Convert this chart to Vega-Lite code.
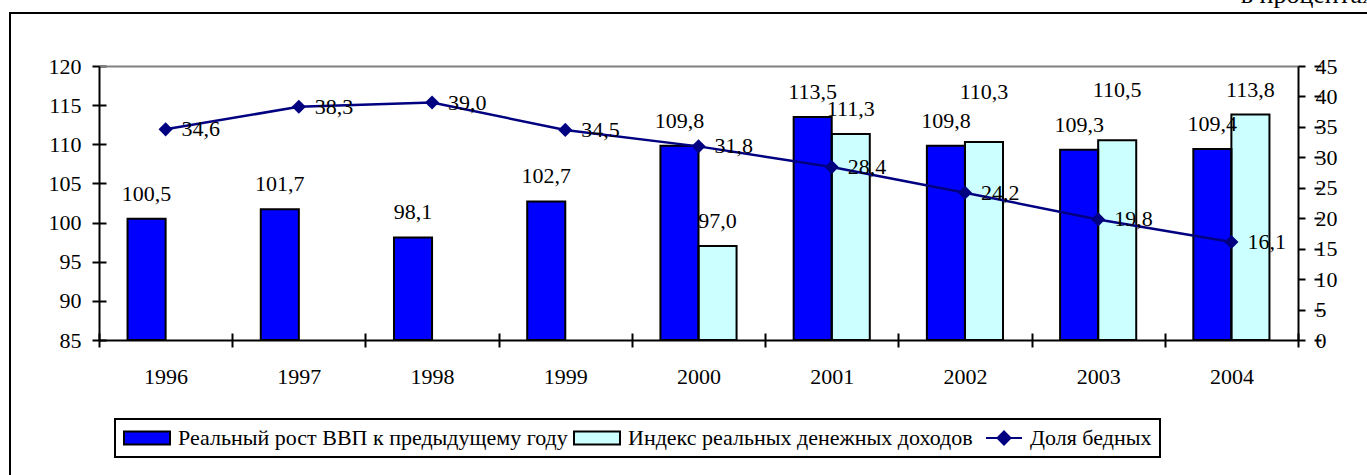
{
  "$schema": "https://vega.github.io/schema/vega-lite/v6.json",
  "width": 1400,
  "height": 470,
  "autosize": {"type": "none"},
  "padding": {"left": 10, "top": 13, "right": 0, "bottom": 0},
  "background": "white",
  "config": {
    "locale": {"number": {"decimal": ",", "thousands": "\u00a0", "grouping": [3], "currency": ["", ""]}},
    "view": {"stroke": "black", "strokeWidth": 2},
    "font": "Times New Roman, Liberation Serif, serif",
    "legend": {"strokeWidth": 2},
    "axis": {
      "labelFont": "Times New Roman, Liberation Serif, serif", "labelFontSize": 22, "labelColor": "black",
      "domainColor": "black", "domainWidth": 2,
      "tickColor": "black", "tickWidth": 2, "tickSize": 7,
      "title": null
    },
    "text": {"font": "Times New Roman, Liberation Serif, serif", "fontSize": 22, "color": "black"}
  },
  "title": {
    "text": "в процентах", "anchor": "end", "orient": "top", "frame": "group",
    "font": "Times New Roman, Liberation Serif, serif", "fontSize": 26, "fontWeight": "normal", "color": "black",
    "baseline": "alphabetic", "offset": 0, "dx": -35, "dy": 16
  },
  "datasets": {
    "bars": [
      {"year": "1996", "series": "Реальный рост ВВП к предыдущему году", "value": 100.5},
      {"year": "1997", "series": "Реальный рост ВВП к предыдущему году", "value": 101.7},
      {"year": "1998", "series": "Реальный рост ВВП к предыдущему году", "value": 98.1},
      {"year": "1999", "series": "Реальный рост ВВП к предыдущему году", "value": 102.7},
      {"year": "2000", "series": "Реальный рост ВВП к предыдущему году", "value": 109.8},
      {"year": "2001", "series": "Реальный рост ВВП к предыдущему году", "value": 113.5},
      {"year": "2002", "series": "Реальный рост ВВП к предыдущему году", "value": 109.8},
      {"year": "2003", "series": "Реальный рост ВВП к предыдущему году", "value": 109.3},
      {"year": "2004", "series": "Реальный рост ВВП к предыдущему году", "value": 109.4},
      {"year": "2000", "series": "Индекс реальных денежных доходов", "value": 97.0},
      {"year": "2001", "series": "Индекс реальных денежных доходов", "value": 111.3},
      {"year": "2002", "series": "Индекс реальных денежных доходов", "value": 110.3},
      {"year": "2003", "series": "Индекс реальных денежных доходов", "value": 110.5},
      {"year": "2004", "series": "Индекс реальных денежных доходов", "value": 113.8}
    ],
    "poor": [
      {"year": "1996", "share": 34.6},
      {"year": "1997", "share": 38.3},
      {"year": "1998", "share": 39.0},
      {"year": "1999", "share": 34.5},
      {"year": "2000", "share": 31.8},
      {"year": "2001", "share": 28.4},
      {"year": "2002", "share": 24.2},
      {"year": "2003", "share": 19.8},
      {"year": "2004", "share": 16.1}
    ]
  },
  "layer": [
    {
      "data": {"name": "bars"},
      "mark": {"type": "bar", "strokeWidth": 0},
      "encoding": {
        "x": {
          "field": "year", "type": "ordinal",
          "scale": {"range": [89, 1288], "paddingInner": 0, "paddingOuter": 0},
          "axis": {
            "orient": "bottom", "offset": -150, "tickSize": 14, "domain": false,
            "labelAngle": 0, "labelPadding": 19, "tickBand": "extent", "grid": false
          }
        },
        "xOffset": {
          "field": "series", "type": "nominal",
          "scale": {"domain": ["Реальный рост ВВП к предыдущему году", "Индекс реальных денежных доходов"], "paddingOuter": 0.75, "paddingInner": 0}
        },
        "y": {
          "field": "value", "type": "quantitative",
          "scale": {"domain": [85, 120], "range": [327, 53], "zero": false, "nice": false},
          "axis": {
            "orient": "left", "offset": -89, "values": [85, 90, 95, 100, 105, 110, 115, 120],
            "labelPadding": 11,
            "grid": true, "gridColor": "black", "gridWidth": 2, "gridDash": [7, 5000], "gridDashOffset": 0
          }
        },
        "y2": {"datum": 85},
        "color": {
          "field": "series", "type": "nominal",
          "scale": {
            "domain": ["Реальный рост ВВП к предыдущему году", "Индекс реальных денежных доходов", "Доля бедных"],
            "range": ["#0000FF", "#CCFFFF", "#000080"]
          },
          "legend": {
            "orient": "none", "legendX": 105, "legendY": 406, "direction": "horizontal",
            "title": null, "labelFont": "Times New Roman, Liberation Serif, serif", "labelFontSize": 22, "labelColor": "black",
            "labelLimit": 0, "symbolSize": 400, "labelOffset": 33, "columnPadding": 2, "padding": 8,
            "fillColor": "white", "strokeColor": "black",
            "symbolType": {"expr": "datum.value === 'Доля бедных' ? 'M0,0H3.6M1.8,-0.65L2.45,0L1.8,0.65L1.15,0Z' : 'M-1,-0.65H3.6V0.65H-1Z'"},
            "symbolStrokeColor": {"expr": "datum.value === 'Доля бедных' ? '#000080' : 'black'"},
            "symbolStrokeWidth": 2,
            "symbolOpacity": 1
          }
        }
      }
    },
    {
      "data": {"name": "bars"},
      "mark": {"type": "bar", "fill": null, "fillOpacity": 0, "stroke": "black", "strokeWidth": 2},
      "encoding": {
        "x": {
          "field": "year", "type": "ordinal",
          "scale": {"range": [89, 1288], "paddingInner": 0, "paddingOuter": 0},
          "axis": {"orient": "bottom", "offset": -143, "ticks": false, "labels": false, "domain": true, "grid": false}
        },
        "xOffset": {
          "field": "series", "type": "nominal",
          "scale": {"domain": ["Реальный рост ВВП к предыдущему году", "Индекс реальных денежных доходов"], "paddingOuter": 0.75, "paddingInner": 0}
        },
        "y": {
          "field": "value", "type": "quantitative",
          "scale": {"domain": [85, 120], "range": [327, 53], "zero": false, "nice": false},
          "axis": null
        },
        "y2": {"datum": 85}
      }
    },
    {
      "data": {"name": "bars"},
      "encoding": {
        "x": {
          "field": "year", "type": "ordinal",
          "scale": {"range": [89, 1288], "paddingInner": 0, "paddingOuter": 0},
          "axis": null
        },
        "xOffset": {
          "field": "series", "type": "nominal",
          "scale": {"domain": ["Реальный рост ВВП к предыдущему году", "Индекс реальных денежных доходов"], "paddingOuter": 0.75, "paddingInner": 0}
        },
        "y": {
          "field": "value", "type": "quantitative",
          "scale": {"domain": [85, 120], "range": [327, 53], "zero": false, "nice": false},
          "axis": null
        },
        "text": {"field": "value", "type": "quantitative", "format": ".1f"}
      },
      "layer": [
        {
          "transform": [{"filter": "!(datum.series === 'Индекс реальных денежных доходов' && (datum.year === '2002' || datum.year === '2003'))"}],
          "mark": {"type": "text", "baseline": "alphabetic", "dy": -18, "align": "center"}
        },
        {
          "transform": [{"filter": "datum.series === 'Индекс реальных денежных доходов' && (datum.year === '2002' || datum.year === '2003')"}],
          "mark": {"type": "text", "baseline": "alphabetic", "dy": -43, "align": "center"}
        }
      ]
    },
    {
      "data": {"name": "poor"},
      "encoding": {
        "x": {
          "field": "year", "type": "ordinal",
          "scale": {"range": [89, 1288], "paddingInner": 0, "paddingOuter": 0},
          "axis": {
            "orient": "top", "offset": -53, "labels": false, "ticks": false,
            "domainColor": "#808080", "domainWidth": 2, "grid": false
          }
        },
        "y": {
          "field": "share", "type": "quantitative",
          "scale": {"domain": [0, 45], "range": [327, 53], "nice": false},
          "axis": {
            "orient": "right", "offset": -112, "values": [0, 5, 10, 15, 20, 25, 30, 35, 40, 45],
            "labelPadding": 10,
            "grid": true, "gridColor": "black", "gridWidth": 2, "gridDash": [7, 5000], "gridDashOffset": 0
          }
        }
      },
      "layer": [
        {"mark": {"type": "line", "color": "#000080", "strokeWidth": 2.5}, "encoding": {}},
        {"mark": {"type": "point", "shape": "diamond", "filled": true, "size": 200, "color": "#000080", "opacity": 1}, "encoding": {}},
        {
          "mark": {"type": "text", "align": "left", "baseline": "middle", "dx": 16},
          "encoding": {"text": {"field": "share", "type": "quantitative", "format": ".1f"}}
        }
      ]
    }
  ],
  "resolve": {"scale": {"y": "independent"}, "axis": {"x": "independent", "y": "independent"}}
}
